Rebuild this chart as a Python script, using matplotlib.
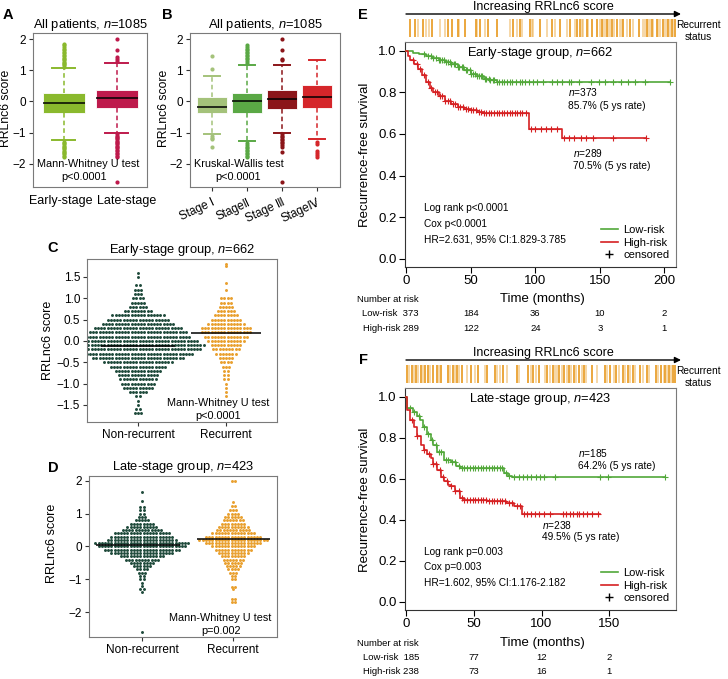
import matplotlib
matplotlib.use("Agg")
import matplotlib.pyplot as plt
import numpy as np
from matplotlib.lines import Line2D

plt.rcParams["font.family"] = ["Liberation Sans", "DejaVu Sans"]
plt.rcParams["mathtext.fontset"] = "custom"
plt.rcParams["mathtext.it"] = "Liberation Sans:italic"
plt.rcParams["mathtext.rm"] = "Liberation Sans"

W, H = 728, 679

# ---------------- panel A: early vs late stage ----------------
a_labels = ["Early-stage", "Late-stage"]
a_q1 = [-0.36, -0.20]
a_med = [-0.04, 0.12]
a_q3 = [0.26, 0.38]
a_whislo = [-1.24, -1.00]
a_whishi = [1.06, 1.22]
a_fliers = [
    [1.12, 1.16, 1.2, 1.24, 1.28, 1.32, 1.36, 1.4, 1.45, 1.5, 1.55, 1.6, 1.65, 1.7, 1.75, 1.8, 1.85,
     -1.3, -1.34, -1.38, -1.42, -1.46, -1.5, -1.54, -1.58, -1.62, -1.66, -1.7, -1.75, -1.8],
    [2.0, 1.66, 1.42, 1.36, 1.3,
     -1.05, -1.1, -1.14, -1.18, -1.22, -1.26, -1.3, -1.34, -1.38, -1.42, -1.46, -1.5, -1.55,
     -1.6, -1.65, -1.7, -1.75, -1.8, -2.6],
]
a_colors = ["#8ab92d", "#be1a4c"]

# ---------------- panel B: stage I-IV ----------------
b_labels = ["Stage Ⅰ", "StageⅡ", "Stage Ⅲ", "StageⅣ"]
b_q1 = [-0.38, -0.38, -0.23, -0.20]
b_med = [-0.18, 0.0, 0.09, 0.13]
b_q3 = [0.14, 0.27, 0.38, 0.52]
b_whislo = [-1.05, -1.28, -1.0, -1.2]
b_whishi = [0.83, 1.16, 1.16, 1.32]
b_fliers = [
    [1.45, 1.03, -1.1, -1.16, -1.2, -1.47],
    [1.25, 1.3, 1.35, 1.4, 1.45, 1.5, 1.55, 1.6, 1.65, 1.7, 1.75, 1.8,
     -1.35, -1.4, -1.45, -1.5, -1.55, -1.6, -1.65, -1.7, -1.75, -1.8],
    [2.0, 1.65, 1.38, 1.32, -1.05, -1.1, -1.15, -1.2, -1.25, -1.3, -1.35, -1.4, -1.45, -1.62, -2.6],
    [-1.3, -1.36, -1.6, -1.66, -1.72, -1.78],
]
b_colors = ["#a4c27a", "#5aa845", "#8b1519", "#d5262a"]

# ---------------- panel C/D: beeswarm (score bin -> number of patients) ----------------
c_nonrec_vals = [1.6, 1.5, 1.3, 1.2, 1.1, 1.0, 0.9, 0.8, 0.7, 0.6, 0.5, 0.4, 0.3, 0.2, 0.1, 0.0,
                 -0.1, -0.2, -0.3, -0.4, -0.5, -0.6, -0.7, -0.8, -0.9, -1.0, -1.1, -1.2, -1.3,
                 -1.4, -1.5, -1.6, -1.7]
c_nonrec_counts = [1, 1, 2, 3, 3, 4, 5, 6, 9, 17, 20, 23, 28, 31, 33, 38,
                   42, 40, 35, 29, 22, 18, 15, 13, 12, 11, 10, 6, 2, 1, 1, 2, 3]
c_rec_vals = [1.8, 1.75, 1.35, 1.2, 1.0, 0.9, 0.8, 0.7, 0.6, 0.5, 0.4, 0.3, 0.2, 0.1, 0.0, -0.1,
              -0.2, -0.3, -0.4, -0.5, -0.6, -0.7, -0.8, -0.9, -1.0, -1.1, -1.2, -1.3]
c_rec_counts = [1, 1, 1, 1, 4, 4, 5, 6, 8, 10, 12, 16, 16, 14, 12, 10,
                9, 7, 5, 4, 3, 2, 2, 2, 1, 1, 1, 1]
c_medians = [-0.12, 0.19]

d_nonrec_vals = [1.65, 1.4, 1.2, 1.1, 1.0, 0.9, 0.8, 0.7, 0.6, 0.5, 0.4, 0.3, 0.2, 0.1, 0.0,
                 -0.1, -0.2, -0.3, -0.4, -0.5, -0.6, -0.7, -0.8, -0.9, -1.0, -1.1, -1.2, -1.3,
                 -1.4, -2.6]
d_nonrec_counts = [1, 1, 2, 2, 2, 3, 5, 8, 10, 13, 18, 20, 22, 30, 28,
                   24, 20, 14, 11, 8, 6, 4, 3, 2, 2, 1, 1, 2, 1, 1]
d_rec_vals = [2.0, 1.35, 1.25, 1.1, 1.0, 0.9, 0.8, 0.7, 0.6, 0.5, 0.4, 0.3, 0.2, 0.1, 0.0,
              -0.1, -0.2, -0.3, -0.4, -0.5, -0.6, -0.7, -0.8, -0.9, -1.0, -1.25, -1.3,
              -1.6, -1.7]
d_rec_counts = [2, 1, 2, 3, 4, 6, 7, 8, 10, 11, 14, 18, 22, 18, 14,
                12, 10, 8, 7, 6, 5, 4, 3, 2, 2, 2, 1, 2, 2]
d_medians = [0.05, 0.22]

# ---------------- panel E: early-stage KM ----------------
e_low_t = [0, 5, 10, 15, 20, 25, 30, 35, 40, 45, 50, 55, 60, 65, 70, 204]
e_low_s = [1.0, 0.99, 0.985, 0.975, 0.965, 0.955, 0.945, 0.935, 0.92, 0.905, 0.89, 0.878,
           0.866, 0.857, 0.848, 0.848]
e_high_t = [0, 1, 3, 6, 9, 12, 15, 18, 21, 25, 30, 35, 40, 45, 50, 55, 60, 95, 121, 186]
e_high_s = [1.0, 0.975, 0.955, 0.935, 0.91, 0.885, 0.85, 0.82, 0.80, 0.78, 0.76, 0.745,
            0.73, 0.72, 0.713, 0.705, 0.70, 0.625, 0.578, 0.578]
e_low_cens = [14, 17, 19, 21, 23, 25, 26, 28, 29, 31, 32, 34, 35, 37, 38, 40, 41, 43, 44, 46,
              47, 49, 50, 52, 53, 55, 56, 58, 59, 61, 62, 64, 65, 67, 68, 70, 72, 74, 76, 78,
              80, 82, 85, 88, 90, 92, 95, 98, 101, 106, 113, 117, 121, 126, 128, 134, 143,
              149, 154, 160, 166, 172, 177, 185, 204]
e_high_cens = [5, 8, 11, 14, 17, 19, 22, 24, 26, 28, 30, 32, 34, 36, 38, 40, 42, 44, 46, 48,
               50, 52, 54, 56, 58, 60, 62, 64, 66, 68, 70, 72, 74, 76, 78, 80, 82, 84, 86, 88,
               90, 93, 97, 100, 104, 108, 112, 117, 122, 126, 130, 135, 139, 145, 160, 186]
e_risk_times = [0, 50, 100, 150, 200]
e_risk_low = [373, 184, 36, 10, 2]
e_risk_high = [289, 122, 24, 3, 1]
# rank (by RRLnc6 score) of recurrent patients, early-stage group (n=662)
e_rug_dark = [10, 22, 42, 63, 103, 112, 126, 144, 171, 181, 201, 223, 262, 279, 303, 328,
              356, 376, 401, 417, 425, 441, 454, 466, 478, 490, 503, 515, 531, 547, 568,
              588, 600, 612, 629, 641, 649, 657]
e_rug_light = [30, 50, 55, 82, 95, 130, 174, 193, 254, 270, 283, 307, 311, 344, 364, 393,
               413, 429, 433, 445, 474, 482, 486, 494, 498, 507, 523, 527, 539, 555, 580,
               584, 592, 596, 604, 616, 620, 633, 637, 645, 653]

# ---------------- panel F: late-stage KM ----------------
f_low_t = [0, 0.5, 5, 8, 10, 12, 15, 18, 20, 23, 28, 33, 37, 40, 72, 75, 78, 191]
f_low_s = [1.0, 0.945, 0.925, 0.905, 0.885, 0.85, 0.82, 0.79, 0.765, 0.73, 0.69, 0.683,
           0.66, 0.652, 0.63, 0.615, 0.607, 0.607]
f_high_t = [0, 0.5, 3, 5.5, 8, 11, 13, 15, 18, 20, 23, 26, 28, 31, 33, 36, 40, 42.5, 60,
            74, 80, 85.5, 143]
f_high_s = [1.0, 0.935, 0.885, 0.852, 0.81, 0.765, 0.74, 0.72, 0.70, 0.67, 0.643, 0.61,
            0.587, 0.57, 0.563, 0.54, 0.507, 0.497, 0.49, 0.483, 0.467, 0.428, 0.428]
f_low_cens = [3, 6, 9, 13, 16, 19, 22, 24, 26, 29, 31, 34, 36, 39, 41, 43, 45, 47, 49, 51,
              53, 55, 57, 59, 61, 63, 65, 67, 69, 71, 74, 76, 80, 83, 86, 89, 92, 96, 99,
              102, 110, 143, 149, 191]
f_high_cens = [4, 8, 13, 17, 20, 22, 25, 27, 30, 33, 36, 39, 41, 43, 45, 47, 49, 51, 53, 55,
               57, 59, 61, 63, 65, 67, 69, 71, 73, 76, 78, 82, 84, 87, 89, 92, 95, 98, 102,
               106, 116, 118, 121, 123, 126, 128, 131, 134, 137, 142]
f_risk_times = [0, 50, 100, 150]
f_risk_low = [185, 77, 12, 2]
f_risk_high = [238, 73, 16, 1]
# rank of recurrent patients, late-stage group (n=423)
f_rug_dark = [2, 9, 16, 23, 30, 35, 42, 49, 54, 66, 73, 80, 87, 101, 113, 127, 139, 152,
              173, 191, 199, 208, 220, 230, 239, 247, 255, 262, 270, 278, 290, 311, 318,
              328, 338, 346, 355, 365, 376, 390, 398, 404, 411, 417, 420]
f_rug_light = [5, 12, 19, 27, 37, 52, 69, 77, 83, 95, 108, 123, 142, 147, 157, 177, 195,
               203, 217, 225, 233, 235, 243, 251, 258, 266, 274, 281, 298, 314, 324, 332,
               342, 350, 358, 370, 380, 394, 402, 407, 414]

GREEN = "#52a83a"
RED = "#d62022"
DARK = "#1f4a3b"
ORANGE = "#e9a02e"
FRAME = "#7a7a7a"


def add_ax(fig, l, t, r, b):
    return fig.add_axes([l / W, 1 - b / H, (r - l) / W, (b - t) / H])


def ftext(fig, x, y, s, **kw):
    kw.setdefault("ha", "center")
    kw.setdefault("va", "center")
    fig.text(x / W, 1 - y / H, s, **kw)


def style_frame(ax):
    for sp in ax.spines.values():
        sp.set_color(FRAME)
        sp.set_linewidth(0.8)
    ax.tick_params(length=3, width=0.8, color="#333333", labelsize=8.5, pad=2)


def boxes(ax, q1, med, q3, lo, hi, fliers, colors, width):
    stats = []
    for i in range(len(med)):
        stats.append(dict(q1=q1[i], med=med[i], q3=q3[i], whislo=lo[i], whishi=hi[i],
                          fliers=fliers[i]))
    res = ax.bxp(stats, positions=range(1, len(med) + 1), widths=width, patch_artist=True,
                 capwidths=width * 0.55, manage_ticks=False)
    for i, c in enumerate(colors):
        res["boxes"][i].set(facecolor=c, edgecolor="white", linewidth=0.6)
        res["medians"][i].set(color="black", linewidth=1.1)
        for w in res["whiskers"][2 * i:2 * i + 2]:
            w.set(color=c, linestyle=(0, (3, 2)), linewidth=1.1)
        for cp in res["caps"][2 * i:2 * i + 2]:
            cp.set(color=c, linewidth=1.4)
        res["fliers"][i].set(marker="o", markersize=3, markerfacecolor=c,
                             markeredgecolor="none")


def swarm(ax, vals, counts, pos, color, px_per_unit, dot_px=3.2):
    dx = dot_px / px_per_unit
    xs, ys = [], []
    for v, n in zip(vals, counts):
        off = (np.arange(n) - (n - 1) / 2.0) * dx
        xs.extend(pos + off)
        ys.extend([v] * n)
    ax.scatter(xs, ys, s=4.5, color=color, linewidths=0, zorder=2)


def step_at(t, s, x):
    idx = np.searchsorted(t, x, side="right") - 1
    return np.asarray(s)[idx]


def km(ax, t, s, cens, color):
    ax.step(t, s, where="post", color=color, lw=1.2, zorder=3)
    ax.plot(cens, step_at(np.asarray(t), s, np.asarray(cens)), "+", color=color,
            markersize=5, mew=0.8, zorder=3)


fig = plt.figure(figsize=(W / 100, H / 100), dpi=100)

# ---- A ----
axA = add_ax(fig, 33, 33, 147, 187)
boxes(axA, a_q1, a_med, a_q3, a_whislo, a_whishi, a_fliers, a_colors, 0.8)
axA.set_xlim(0.42, 2.57)
axA.set_ylim(-2.75, 2.2)
axA.set_yticks([-2, -1, 0, 1, 2])
axA.set_xticks([1, 2])
axA.set_xticklabels([])
style_frame(axA)
axA.tick_params(axis="x", length=0)
ftext(fig, 93, 201, a_labels[0], fontsize=9, ha="right")
ftext(fig, 97, 201, a_labels[1], fontsize=9, ha="left")
axA.text(0.48, 0.13, "Mann-Whitney U test", transform=axA.transAxes, ha="center", fontsize=7.8)
axA.text(0.45, 0.045, "p<0.0001", transform=axA.transAxes, ha="center", fontsize=7.8)
axA.set_title("All patients, $n$=1085", fontsize=9.3, pad=3)
ftext(fig, 6, 108, "RRLnc6 score", rotation=90, fontsize=8.8)
ftext(fig, 8, 15, "A", fontsize=10.5, fontweight="bold")

# ---- B ----
axB = add_ax(fig, 190, 33, 340, 187)
boxes(axB, b_q1, b_med, b_q3, b_whislo, b_whishi, b_fliers, b_colors, 0.86)
axB.set_xlim(0.37, 4.66)
axB.set_ylim(-2.75, 2.2)
axB.set_yticks([-2, -1, 0, 1, 2])
axB.set_xticks([1, 2, 3, 4])
axB.set_xticklabels(b_labels, fontsize=8.5, rotation=25, ha="right", rotation_mode="anchor")
style_frame(axB)
axB.tick_params(axis="x", length=3, pad=4)
axB.text(0.03, 0.13, "Kruskal-Wallis test", transform=axB.transAxes, ha="left", fontsize=7.8)
axB.text(0.32, 0.045, "p<0.0001", transform=axB.transAxes, ha="center", fontsize=7.8)
axB.set_title("All patients, $n$=1085", fontsize=9.3, pad=3)
ftext(fig, 164, 108, "RRLnc6 score", rotation=90, fontsize=8.8)
ftext(fig, 167, 15, "B", fontsize=10.5, fontweight="bold")

# ---- C ----
axC = add_ax(fig, 87, 259, 277, 422)
axC.set_xlim(0.42, 2.58)
axC.set_ylim(-1.9, 1.92)
swarm(axC, c_nonrec_vals, c_nonrec_counts, 1, DARK, 88)
swarm(axC, c_rec_vals, c_rec_counts, 2, ORANGE, 88)
axC.hlines(c_medians, [0.58, 1.6], [1.42, 2.4], color="black", lw=1.1, zorder=4)
axC.set_yticks([-1.5, -1.0, -0.5, 0.0, 0.5, 1.0, 1.5])
axC.set_xticks([1, 2])
axC.set_xticklabels(["Non-recurrent", "Recurrent"], fontsize=9.5)
style_frame(axC)
axC.text(0.69, 0.1, "Mann-Whitney U test", transform=axC.transAxes, ha="center", fontsize=7.8)
axC.text(0.69, 0.02, "p<0.0001", transform=axC.transAxes, ha="center", fontsize=7.8)
axC.set_title("Early-stage group, $n$=662", fontsize=9.3, pad=4)
ftext(fig, 48, 340, "RRLnc6 score", rotation=90, fontsize=9)
ftext(fig, 53, 248, "C", fontsize=10.5, fontweight="bold")

# ---- D ----
axD = add_ax(fig, 89, 476, 277, 637)
axD.set_xlim(0.42, 2.48)
axD.set_ylim(-2.76, 2.15)
swarm(axD, d_nonrec_vals, d_nonrec_counts, 1, DARK, 91)
swarm(axD, d_rec_vals, d_rec_counts, 2, ORANGE, 91)
axD.hlines(d_medians, [0.5, 1.6], [1.42, 2.4], color="black", lw=1.1, zorder=4)
axD.set_yticks([-2, -1, 0, 1, 2])
axD.set_xticks([1, 2])
axD.set_xticklabels(["Non-recurrent", "Recurrent"], fontsize=9.5)
style_frame(axD)
axD.text(0.7, 0.1, "Mann-Whitney U test", transform=axD.transAxes, ha="center", fontsize=7.8)
axD.text(0.7, 0.02, "p=0.002", transform=axD.transAxes, ha="center", fontsize=7.8)
axD.set_title("Late-stage group, $n$=423", fontsize=9.3, pad=4)
ftext(fig, 52, 543, "RRLnc6 score", rotation=90, fontsize=9)
ftext(fig, 53, 468, "D", fontsize=10.5, fontweight="bold")


def km_panel(top, bottom, xmax, ticks, low, high, n_total, rug_dark, rug_light, title,
             notes, stats, risk_times, risk_low, risk_high, risk_y, ylab_y):
    ax = add_ax(fig, 405, top, 676, bottom)
    km(ax, low[0], low[1], low[2], GREEN)
    km(ax, high[0], high[1], high[2], RED)
    ax.set_xlim(-1, xmax)
    ax.set_ylim(-0.04, 1.042)
    ax.set_xticks(ticks)
    ax.set_yticks([0.0, 0.2, 0.4, 0.6, 0.8, 1.0])
    ax.set_yticklabels(["0.0", "0.2", "0.4", "0.6", "0.8", "1.0"])
    for sp in ["top", "right"]:
        ax.spines[sp].set_color(FRAME)
    for sp in ["left", "bottom"]:
        ax.spines[sp].set_color("#333333")
    for sp in ax.spines.values():
        sp.set_linewidth(0.8)
    ax.tick_params(length=4, width=0.8, labelsize=9.5, pad=2)
    ax.text(0.5, 0.985, title, transform=ax.transAxes, ha="center", va="top", fontsize=9.3)
    for (x, y, s) in notes:
        ax.text(x, y, s, fontsize=7.3, ha="left", va="center")
    for i, s in enumerate(stats):
        ax.text(0.07, 0.26 - i * 0.068, s, transform=ax.transAxes, fontsize=7.3, va="center")
    handles = [Line2D([], [], color=GREEN, lw=1.2), Line2D([], [], color=RED, lw=1.2),
               Line2D([], [], color="black", marker="+", ls="none", markersize=6, mew=1)]
    ax.legend(handles, ["Low-risk", "High-risk", "censored"], loc="lower right",
              frameon=False, fontsize=8, handlelength=1.5, handletextpad=0.5,
              labelspacing=0.25, borderaxespad=0.2)
    # header: recurrent status strip
    hd = add_ax(fig, 406, top - 42, 681, top - 2)
    hd.set_xlim(0, n_total * 275 / 271)
    hd.set_ylim(0, 1)
    hd.axis("off")
    hd.vlines(rug_light, 0.07, 0.52, color=ORANGE, alpha=0.45, lw=1.3)
    hd.vlines(rug_dark, 0.07, 0.52, color=ORANGE, alpha=1.0, lw=1.3)
    hd.annotate("", xy=(1.0, 0.65), xytext=(0.0, 0.65), xycoords="axes fraction",
                arrowprops=dict(arrowstyle="-|>", color="black", lw=1.0,
                                mutation_scale=9, shrinkA=0, shrinkB=0))
    hd.text(0.5, 0.83, "Increasing RRLnc6 score", transform=hd.transAxes, ha="center",
            va="center", fontsize=9)
    ftext(fig, 698, top - 17, "Recurrent", fontsize=7.3)
    ftext(fig, 698, top - 5, "status", fontsize=7.3)
    # x label and number at risk
    ftext(fig, 542, risk_y, "Time (months)", fontsize=9.5)
    ftext(fig, 419, risk_y, "Number at risk", fontsize=6.8, ha="right")
    ftext(fig, 419, risk_y + 15, "Low-risk  %d" % risk_low[0], fontsize=6.8, ha="right")
    ftext(fig, 419, risk_y + 29, "High-risk %d" % risk_high[0], fontsize=6.8, ha="right")
    fig.canvas.draw()
    for t, nl, nh in zip(risk_times[1:], risk_low[1:], risk_high[1:]):
        xd = ax.transData.transform((t, 0))[0]
        fig.text(xd / fig.bbox.width, 1 - (risk_y + 15) / H, str(nl), fontsize=6.8,
                 ha="center", va="center")
        fig.text(xd / fig.bbox.width, 1 - (risk_y + 29) / H, str(nh), fontsize=6.8,
                 ha="center", va="center")
    ftext(fig, 365, ylab_y, "Recurrence-free survival", rotation=90, fontsize=9.5)
    return ax


km_panel(42, 267, 209, [0, 50, 100, 150, 200],
         (e_low_t, e_low_s, e_low_cens), (e_high_t, e_high_s, e_high_cens),
         662, e_rug_dark, e_rug_light, "Early-stage group, $n$=662",
         [(125, 0.80, "$n$=373"), (125, 0.735, "85.7% (5 ys rate)"),
          (129, 0.51, "$n$=289"), (129, 0.447, "70.5% (5 ys rate)")],
         ["Log rank p<0.0001", "Cox p<0.0001", "HR=2.631, 95% CI:1.829-3.785"],
         e_risk_times, e_risk_low, e_risk_high, 299, 155)
ftext(fig, 363, 15, "E", fontsize=10.5, fontweight="bold")

km_panel(388, 610, 199.5, [0, 50, 100, 150],
         (f_low_t, f_low_s, f_low_cens), (f_high_t, f_high_s, f_high_cens),
         423, f_rug_dark, f_rug_light, "Late-stage group, $n$=423",
         [(127, 0.725, "$n$=185"), (127, 0.662, "64.2% (5 ys rate)"),
          (100, 0.375, "$n$=238"), (100, 0.316, "49.5% (5 ys rate)")],
         ["Log rank p=0.003", "Cox p=0.003", "HR=1.602, 95% CI:1.176-2.182"],
         f_risk_times, f_risk_low, f_risk_high, 643, 500)
ftext(fig, 364, 360, "F", fontsize=10.5, fontweight="bold")

fig.savefig("out.png", dpi=100)
